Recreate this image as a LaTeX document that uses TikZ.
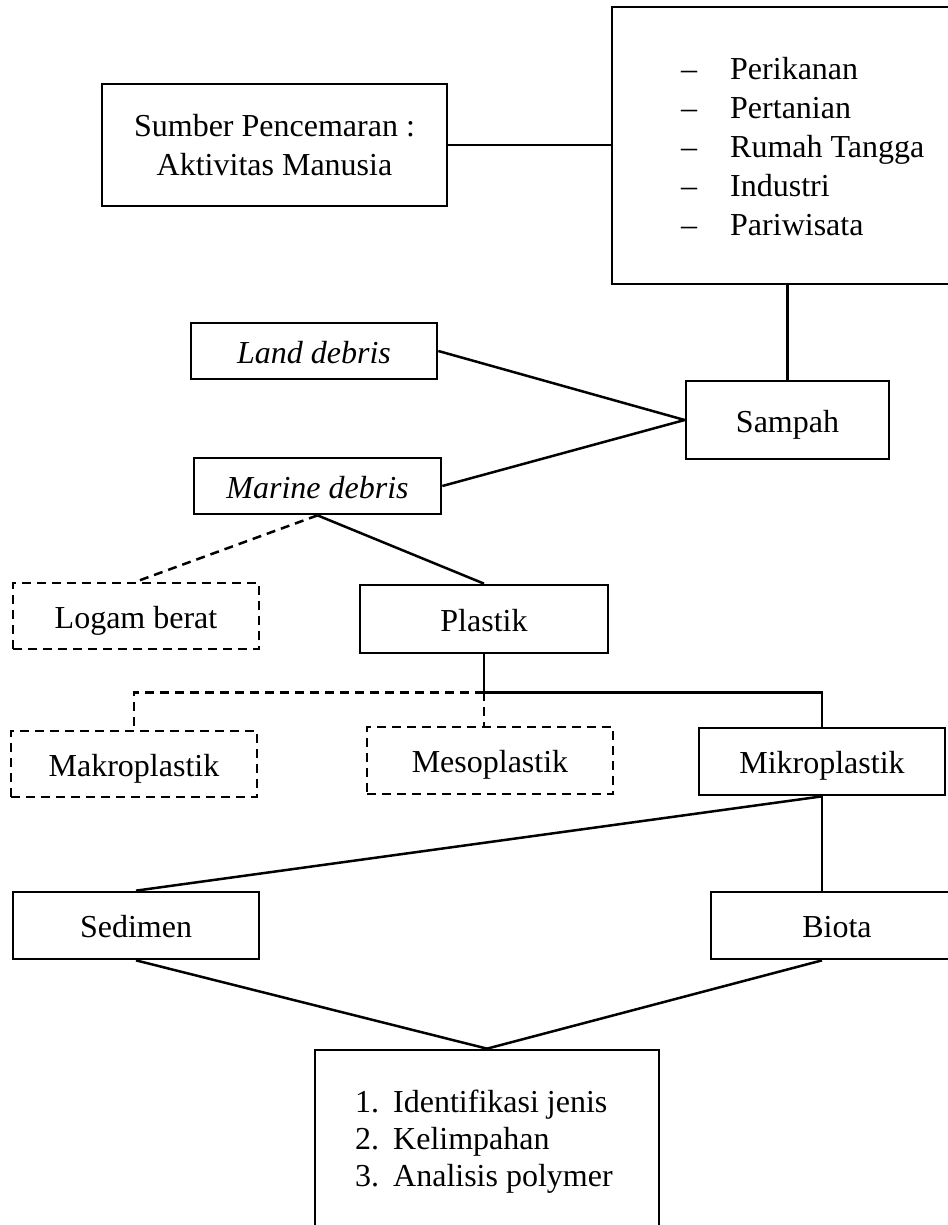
\documentclass[tikz,border=0pt]{standalone}
\usepackage{fontspec}
\setmainfont{Liberation Serif}
\usetikzlibrary{calc}
\tikzset{
  frame/.style={draw, line width=2.7pt, rectangle, inner sep=0pt, font=\fontsize{32}{38.5}\selectfont},
  box/.style={frame, text height=24pt, text depth=0pt},
  itbox/.style={box, font=\fontsize{32}{38.5}\selectfont\itshape},
  dbox/.style={box, dash pattern=on 9pt off 6pt},
  conn/.style={line width=2.5pt},
  dconn/.style={conn, dash pattern=on 9pt off 6pt},
  listtxt/.style={inner sep=0pt, anchor=base west}
}
\begin{document}
\begin{tikzpicture}[x=1pt,y=-1pt]
\useasboundingbox (0,0) rectangle (947,1225);
% top row
\node[frame, align=center, minimum width=345pt, minimum height=122pt] (sumber) at (274.5,145) {Sumber Pencemaran :\\Aktivitas Manusia};
\node[frame, minimum width=344pt, minimum height=277pt] (src) at (784,145.5) {};
\node[listtxt, font=\fontsize{32}{39}\selectfont] (srclist) at (681,80) {\begin{tabular}[t]{@{}l@{}}
\makebox[49pt][l]{–}Perikanan\\
\makebox[49pt][l]{–}Pertanian\\
\makebox[49pt][l]{–}Rumah Tangga\\
\makebox[49pt][l]{–}Industri\\
\makebox[49pt][l]{–}Pariwisata
\end{tabular}};
% middle
\node[box, minimum width=203pt, minimum height=78pt] (sampah) at (787.5,420) {Sampah};
\node[itbox, minimum width=246pt, minimum height=56pt] (land) at (314,351) {Land debris};
\node[itbox, minimum width=247pt, minimum height=56pt] (marine) at (317.5,486) {Marine debris};
\node[dbox, minimum width=246pt, minimum height=66pt] (logam) at (136,616) {Logam berat};
\node[box, minimum width=248pt, minimum height=68pt] (plastik) at (484,619) {Plastik};
\node[dbox, minimum width=246pt, minimum height=66pt] (makro) at (134,764) {Makroplastik};
\node[dbox, minimum width=246pt, minimum height=67pt] (meso) at (490,760.5) {Mesoplastik};
\node[box, minimum width=246pt, minimum height=67pt] (mikro) at (822,761.5) {Mikroplastik};
\node[box, minimum width=246pt, minimum height=67pt] (sedimen) at (136,925.5) {Sedimen};
\node[box, minimum width=252pt, minimum height=67pt] (biota) at (837,925.5) {Biota};
% bottom
\node[frame, minimum width=344pt, minimum height=190pt] (hasil) at (487,1145) {};
\node[listtxt, font=\fontsize{32}{37}\selectfont] (hasillist) at (355,1112) {\begin{tabular}[t]{@{}l@{}}
\makebox[38pt][l]{1.}Identifikasi jenis\\
\makebox[38pt][l]{2.}Kelimpahan\\
\makebox[38pt][l]{3.}Analisis polymer
\end{tabular}};
% connectors
\draw[conn] (sumber.east) -- (sumber.east -| src.west);
\draw[conn] (sampah.north |- src.south) -- (sampah.north);
\draw[conn] (land.east) -- (sampah.west);
\draw[conn] (marine.east) -- (sampah.west);
\draw[dconn] (marine.south) -- (logam.north);
\draw[conn] (marine.south) -- (plastik.north);
\path (plastik.south) ++(0,38) coordinate (br);
\draw[conn] (plastik.south) -- (br);
\draw[dconn] (br) -| (makro.north);
\draw[dconn] (br) -- (br |- meso.north);
\draw[conn] (br) -| (mikro.north);
\draw[conn] (mikro.south) -- (sedimen.north);
\draw[conn] (mikro.south) -- (mikro.south |- biota.north);
\draw[conn] (sedimen.south) -- (hasil.north);
\draw[conn] (mikro.south |- biota.south) -- (hasil.north);
\end{tikzpicture}
\end{document}
